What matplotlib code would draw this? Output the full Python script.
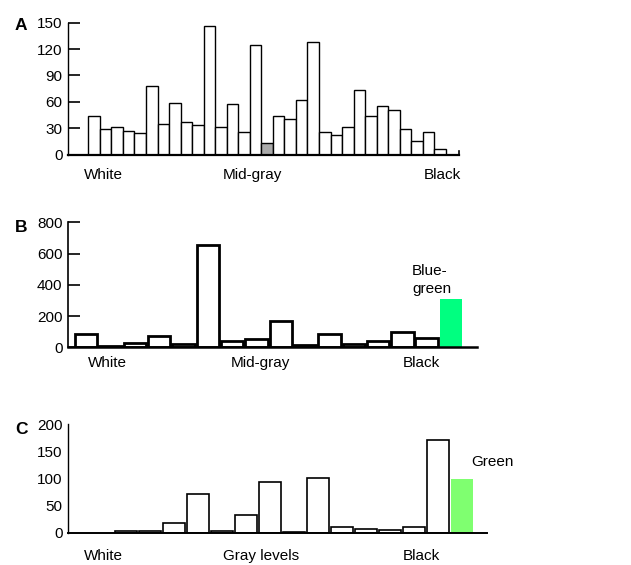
import matplotlib
matplotlib.use('Agg')
import matplotlib.pyplot as plt
import numpy as np

plt.rcParams['font.family'] = ['Liberation Sans', 'DejaVu Sans']

# panel A: 31 gray-level bins, one highlighted
a_vals = [44, 29, 32, 27, 25, 78, 35, 59, 37, 34, 146, 31, 58, 26, 125, 13,
          44, 40, 62, 128, 26, 22, 31, 74, 44, 55, 51, 29, 16, 26, 7]
a_hilite = 15
a_ticks = [0, 30, 60, 90, 120, 150]

# panel B: 16 bins, last one blue-green
b_vals = [85, 10, 28, 75, 19, 655, 38, 55, 170, 13, 87, 23, 38, 96, 62, 309]
b_ticks = [0, 200, 400, 600, 800]

# panel C: 15 bins, last one green
c_vals = [3.5, 3.5, 18, 72, 3, 32.5, 94, 1.2, 100.5, 10.5, 6.7, 5, 10.5, 172, 100]
c_ticks = [0, 50, 100, 150, 200]

W, H = 631, 565
fig = plt.figure(figsize=(W / 100, H / 100), dpi=100)


def rect(left, right, top, bottom):
    return [left / W, 1 - bottom / H, (right - left) / W, (bottom - top) / H]


def ftext(x, y, s, **kw):
    fig.text(x / W, 1 - y / H, s, **kw)


def style(ax, ticks, ylim, tick_len, spine_w, base_w):
    ax.set_ylim(*ylim)
    ax.set_yticks(ticks)
    ax.set_xticks([])
    ax.spines['top'].set_visible(False)
    ax.spines['right'].set_visible(False)
    ax.spines['left'].set_linewidth(spine_w)
    ax.spines['bottom'].set_linewidth(base_w)
    ax.tick_params(axis='y', direction='in', length=tick_len, width=1.2,
                   labelsize=11, pad=4)


fs = 11

# ---- A ----
axA = fig.add_axes(rect(68, 459, 22.7, 154.7))
colsA = ['white'] * len(a_vals)
colsA[a_hilite] = '#aaaaaa'
axA.bar(np.arange(len(a_vals)), a_vals, width=1.0, color=colsA,
        edgecolor='black', linewidth=1.0)
axA.set_xlim(-2.26, 31.64)
style(axA, a_ticks, (0, 150), 8.5, 1.0, 1.6)
axA.axvline(31.64, ymax=0.03, color='black', lw=1.2, clip_on=False)

ftext(21, 25, 'A', fontsize=12.5, fontweight='bold', ha='center', va='center')
ftext(103, 175, 'White', fontsize=fs, ha='center', va='center')
ftext(252, 175, 'Mid-gray', fontsize=fs, ha='center', va='center')
ftext(442, 175, 'Black', fontsize=fs, ha='center', va='center')

# ---- B ----
axB = fig.add_axes(rect(68, 477, 222.3, 347.3))
colsB = ['white'] * (len(b_vals) - 1) + ['#00ff80']
edgeB = ['black'] * (len(b_vals) - 1) + ['none']
axB.bar(np.arange(len(b_vals)), b_vals, width=0.92, color=colsB,
        edgecolor=edgeB, linewidth=2.0)
axB.set_xlim(-0.75, 16.07)
style(axB, b_ticks, (0, 800), 8.5, 1.2, 1.8)

ftext(21, 227, 'B', fontsize=12.5, fontweight='bold', ha='center', va='center')
ftext(107, 363, 'White', fontsize=fs, ha='center', va='center')
ftext(260, 363, 'Mid-gray', fontsize=fs, ha='center', va='center')
ftext(421, 363, 'Black', fontsize=fs, ha='center', va='center')
ftext(412, 280, 'Blue-\ngreen', fontsize=fs, ha='left', va='center',
      linespacing=1.45)

# ---- C ----
axC = fig.add_axes(rect(68, 487, 424.3, 533))
colsC = ['white'] * (len(c_vals) - 1) + ['#7fff70']
edgeC = ['black'] * (len(c_vals) - 1) + ['none']
axC.bar(np.arange(len(c_vals)), c_vals, width=0.92, color=colsC,
        edgecolor=edgeC, linewidth=1.2)
axC.set_xlim(-2.42, 15.04)
style(axC, c_ticks, (0, 200), 0, 1.0, 1.4)

ftext(21, 429, 'C', fontsize=12.5, fontweight='bold', ha='center', va='center')
ftext(103, 556, 'White', fontsize=fs, ha='center', va='center')
ftext(261, 556, 'Gray levels', fontsize=fs, ha='center', va='center')
ftext(421, 556, 'Black', fontsize=fs, ha='center', va='center')
ftext(471, 462, 'Green', fontsize=fs, ha='left', va='center')

fig.savefig('out.png', dpi=100)
